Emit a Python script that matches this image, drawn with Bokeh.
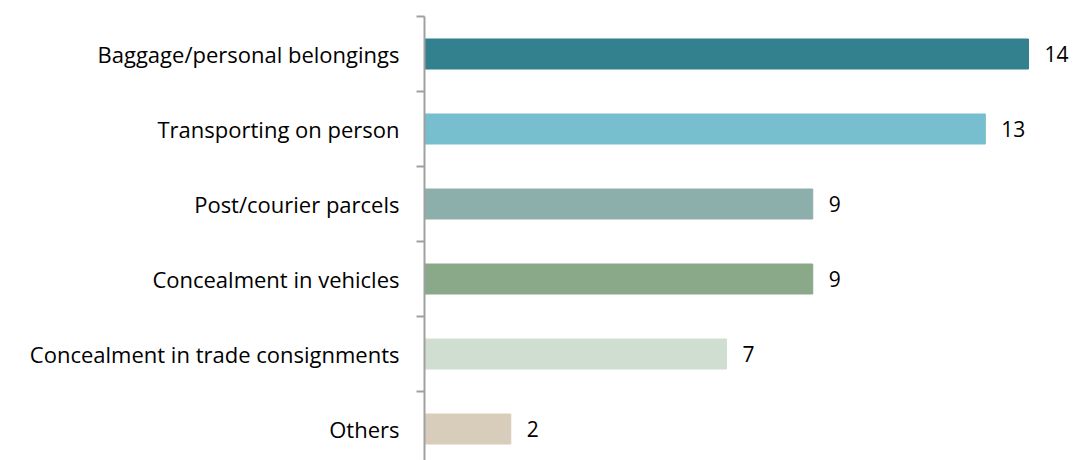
from bokeh.plotting import figure
from bokeh.models import ColumnDataSource, Range1d, FixedTicker, LabelSet
from bokeh.core.properties import value
from bokeh.embed import file_html
from bokeh.resources import INLINE

categories = ["Baggage/personal belongings", "Transporting on person", "Post/courier parcels",
              "Concealment in vehicles", "Concealment in trade consignments", "Others"]
values = [14, 13, 9, 9, 7, 2]
colors = ["#33808F", "#77BECE", "#8DAFAC", "#89A988", "#D0DED2", "#D8CDBB"]

pos = list(range(len(categories)))
src = ColumnDataSource(dict(y=pos, v=values, c=colors, t=[str(x) for x in values]))

W, H = 1073, 460
LEFT, TOP = 424, 16
p = figure(width=W, height=H, output_backend="svg", toolbar_location=None,
           x_range=Range1d(0, (W - LEFT) / 43.14), y_range=Range1d(-0.5 + (H - TOP) / 75.0, -0.5),
           min_border_left=LEFT, min_border_right=0, min_border_top=TOP, min_border_bottom=0)
p.hbar(y="y", right="v", left=0, height=0.4, color="c", source=src)
p.add_layout(LabelSet(x="v", y="y", text="t", source=src, x_offset=16, y_offset=0,
                      text_baseline="middle", text_align="left", text_font=value("Open Sans"),
                      text_font_size="21px", text_color="#000000"))

p.xaxis.visible = False
p.xgrid.visible = False
p.ygrid.visible = False
p.outline_line_color = None

ya = p.yaxis[0]
ya.ticker = FixedTicker(ticks=pos, minor_ticks=[i - 0.5 for i in pos])
ya.major_label_overrides = {i: c for i, c in enumerate(categories)}
ya.major_tick_line_color = None
ya.minor_tick_out = 8
ya.minor_tick_in = 0
ya.minor_tick_line_color = "#A0A0A0"
ya.minor_tick_line_width = 2
ya.axis_line_color = "#A0A0A0"
ya.axis_line_width = 2
ya.major_label_text_font = "Open Sans"
ya.major_label_text_font_size = "22px"
ya.major_label_text_color = "#000000"
ya.major_label_standoff = 17

open("out.html", "w").write(file_html(p, INLINE))
